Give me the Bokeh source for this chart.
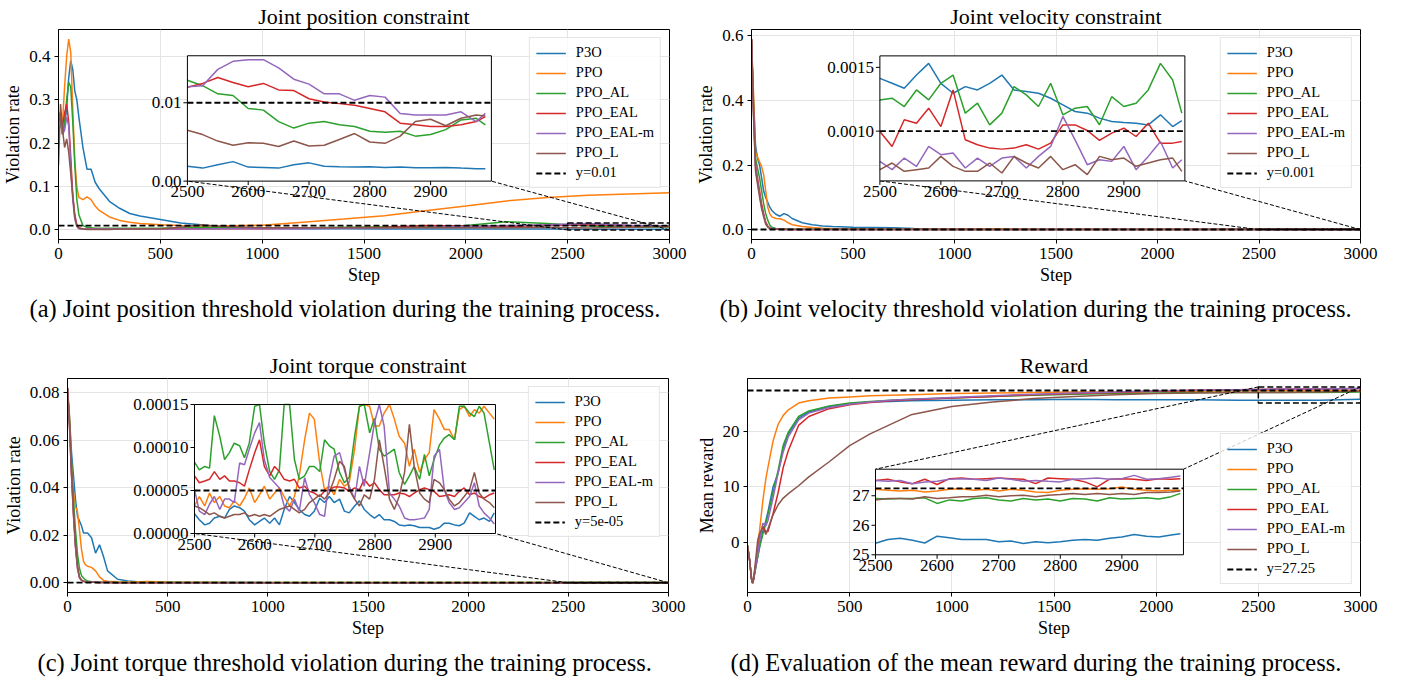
import numpy as np
from bokeh.plotting import figure
from bokeh.models import Range1d, FixedTicker, PrintfTickFormatter, Legend, LegendItem, Title
from bokeh.layouts import row, column
from bokeh.embed import file_html
from bokeh.resources import INLINE
from bokeh.core.properties import value

FONT = "Liberation Serif"
NAMES = ["P3O", "PPO", "PPO_AL", "PPO_EAL", "PPO_EAL-m", "PPO_L"]
COLORS = ["#1f77b4", "#ff7f0e", "#2ca02c", "#d62728", "#9467bd", "#8c564b"]

X_TICKS = [0, 500, 1000, 1500, 2000, 2500, 3000]
INSET_X = (2500, 3000)
INSET_X_TICKS = [2500, 2600, 2700, 2800, 2900]

# ---------------- (a) joint position ----------------
STEPS_V = [0, 10, 20, 30, 40, 50, 60, 70, 80, 90, 100, 120, 140, 160, 180, 200, 250, 300, 350, 400,
           500, 600, 700, 800, 1000, 1200, 1400, 1600, 1800, 2000, 2200, 2400, 2600, 2800, 3000]
POS_P3O = [0.27, 0.25, 0.22, 0.24, 0.28, 0.35, 0.39, 0.37, 0.32, 0.30, 0.26, 0.19, 0.14, 0.14, 0.11, 0.095,
           0.066, 0.05, 0.038, 0.032, 0.024, 0.016, 0.012, 0.007, 0.004, 0.003, 0.0025, 0.002, 0.002, 0.002,
           0.002, 0.002, 0.0018, 0.0018, 0.0016]
POS_PPO = [0.27, 0.26, 0.25, 0.33, 0.40, 0.44, 0.41, 0.28, 0.16, 0.10, 0.075, 0.07, 0.076, 0.07, 0.055, 0.045,
           0.03, 0.022, 0.018, 0.015, 0.012, 0.010, 0.009, 0.009, 0.011, 0.018, 0.025, 0.033, 0.044, 0.055,
           0.067, 0.075, 0.080, 0.083, 0.086]
POS_AL = [0.27, 0.25, 0.22, 0.25, 0.30, 0.34, 0.33, 0.25, 0.15, 0.07, 0.035, 0.01, 0.006, 0.005, 0.004, 0.004,
          0.004, 0.004, 0.004, 0.004, 0.004, 0.005, 0.006, 0.005, 0.005, 0.005, 0.006, 0.007, 0.008, 0.01,
          0.019, 0.015, 0.009, 0.0065, 0.007]
POS_EAL = [0.27, 0.26, 0.24, 0.27, 0.29, 0.25, 0.17, 0.08, 0.035, 0.012, 0.005, 0.002, 0.002, 0.002, 0.002,
           0.002, 0.002, 0.002, 0.002, 0.002, 0.002, 0.002, 0.003, 0.003, 0.003, 0.004, 0.005, 0.006, 0.01,
           0.009, 0.008, 0.011, 0.012, 0.0095, 0.008]
POS_EALM = [0.27, 0.25, 0.22, 0.23, 0.26, 0.24, 0.15, 0.07, 0.025, 0.008, 0.003, 0.002, 0.002, 0.002, 0.002,
            0.002, 0.002, 0.002, 0.002, 0.002, 0.002, 0.002, 0.002, 0.003, 0.003, 0.003, 0.004, 0.005, 0.006,
            0.008, 0.01, 0.012, 0.015, 0.011, 0.009]
POS_L = [0.15, 0.29, 0.23, 0.19, 0.21, 0.18, 0.13, 0.08, 0.03, 0.01, 0.004, 0.002, 0.001, 0.001, 0.001, 0.001,
         0.001, 0.002, 0.002, 0.002, 0.003, 0.006, 0.012, 0.008, 0.005, 0.005, 0.005, 0.005, 0.005, 0.005,
         0.005, 0.006, 0.0045, 0.006, 0.008]

POS_IN_STEP = [2500, 2525, 2550, 2575, 2600, 2625, 2650, 2675, 2700, 2725, 2750, 2775, 2800, 2825, 2850,
               2875, 2900, 2925, 2950, 2975, 2990]
POS_IN_P3O = [0.00191, 0.00166, 0.00208, 0.00249, 0.00179, 0.00175, 0.00166, 0.00208, 0.00233, 0.00191,
              0.00183, 0.00179, 0.00183, 0.00175, 0.00179, 0.0017, 0.0017, 0.00175, 0.00166, 0.00158, 0.00158]
POS_IN_AL = [0.01288, 0.01218, 0.01114, 0.01093, 0.00927, 0.00906, 0.0076, 0.00677, 0.0074, 0.0076, 0.00719,
             0.00698, 0.00636, 0.00623, 0.00636, 0.00574, 0.00594, 0.00657, 0.00781, 0.00802, 0.00719]
POS_IN_EAL = [0.01197, 0.01247, 0.01322, 0.01259, 0.01205, 0.01247, 0.01164, 0.01155, 0.01051, 0.0101,
              0.00989, 0.00968, 0.00927, 0.00885, 0.0074, 0.00719, 0.00698, 0.00698, 0.00719, 0.0076, 0.00823]
POS_IN_EALM = [0.01205, 0.01218, 0.01426, 0.01529, 0.0155, 0.0155, 0.01446, 0.01301, 0.01238, 0.01114,
               0.01114, 0.01031, 0.01093, 0.01072, 0.00864, 0.00844, 0.00844, 0.00844, 0.00885, 0.0076, 0.00864]
POS_IN_L = [0.00648, 0.00594, 0.00511, 0.00457, 0.0049, 0.00482, 0.00441, 0.00511, 0.00449, 0.00457, 0.00532,
            0.00607, 0.00499, 0.00482, 0.00574, 0.0076, 0.0079, 0.00707, 0.00802, 0.00844, 0.00831]

# ---------------- (b) joint velocity ----------------
VEL_P3O = [0.59, 0.40, 0.26, 0.22, 0.20, 0.16, 0.12, 0.10, 0.085, 0.07, 0.06, 0.048, 0.042, 0.05, 0.045, 0.035,
           0.022, 0.016, 0.012, 0.01, 0.008, 0.007, 0.006, 0.004, 0.003, 0.002, 0.002, 0.0018, 0.0016, 0.0015,
           0.0015, 0.0014, 0.0013, 0.0011, 0.0011]
VEL_PPO = [0.59, 0.42, 0.24, 0.225, 0.21, 0.195, 0.17, 0.12, 0.07, 0.05, 0.04, 0.035, 0.034, 0.03, 0.022, 0.016,
           0.01, 0.007, 0.005, 0.004, 0.003, 0.003, 0.0025, 0.0025, 0.0025, 0.003, 0.002, 0.002, 0.002, 0.002,
           0.002, 0.002, 0.0018, 0.0018, 0.0018]
VEL_AL = [0.59, 0.38, 0.22, 0.19, 0.16, 0.12, 0.08, 0.05, 0.03, 0.015, 0.008, 0.004, 0.003, 0.0025, 0.002, 0.002,
          0.0018, 0.0017, 0.0016, 0.0015, 0.0015, 0.0014, 0.0014, 0.0014, 0.0013, 0.0013, 0.0013, 0.0013,
          0.0013, 0.0012, 0.0012, 0.0012, 0.0012, 0.0012, 0.0012]
VEL_EAL = [0.59, 0.37, 0.20, 0.16, 0.12, 0.08, 0.05, 0.025, 0.012, 0.006, 0.003, 0.002, 0.0015, 0.0014, 0.0013,
           0.0013, 0.0012, 0.0012, 0.0011, 0.0011, 0.0011, 0.0011, 0.001, 0.001, 0.001, 0.001, 0.001, 0.001,
           0.001, 0.001, 0.001, 0.001, 0.001, 0.001, 0.00095]
VEL_EALM = [0.59, 0.36, 0.19, 0.15, 0.11, 0.07, 0.045, 0.02, 0.01, 0.005, 0.003, 0.002, 0.0015, 0.0013, 0.0012,
            0.0011, 0.001, 0.001, 0.001, 0.0009, 0.0009, 0.0009, 0.0009, 0.0009, 0.0008, 0.0008, 0.0008, 0.0008,
            0.0008, 0.0008, 0.0008, 0.0008, 0.0008, 0.0008, 0.0008]
VEL_L = [0.59, 0.35, 0.18, 0.14, 0.10, 0.065, 0.04, 0.018, 0.008, 0.004, 0.002, 0.0015, 0.0012, 0.001, 0.001,
         0.0009, 0.0009, 0.0008, 0.0008, 0.0008, 0.0008, 0.0008, 0.0007, 0.0007, 0.0007, 0.0007, 0.0007, 0.0007,
         0.0007, 0.0007, 0.0007, 0.0007, 0.0007, 0.0007, 0.0007]

VEL_IN_STEP = [2500, 2520, 2540, 2560, 2580, 2600, 2620, 2640, 2660, 2680, 2700, 2720, 2740, 2760, 2780, 2800,
               2820, 2840, 2860, 2880, 2900, 2920, 2940, 2960, 2980, 2995]
VEL_IN_P3O = [0.001414, 0.001375, 0.001336, 0.00144, 0.001531, 0.001375, 0.001297, 0.001349, 0.001323,
              0.001375, 0.00144, 0.001323, 0.00131, 0.001297, 0.001258, 0.001206, 0.001154, 0.001141, 0.001102,
              0.001076, 0.001068, 0.001062, 0.001049, 0.001128, 0.001036, 0.001083]
VEL_IN_AL = [0.001245, 0.001258, 0.001193, 0.001323, 0.001245, 0.001375, 0.00144, 0.001141, 0.001219, 0.001049,
             0.001141, 0.001349, 0.001284, 0.001193, 0.001375, 0.001128, 0.00118, 0.001193, 0.00105, 0.00127,
             0.001193, 0.001219, 0.001323, 0.001531, 0.001401, 0.001141]
VEL_IN_EAL = [0.000997, 0.00088, 0.001089, 0.001062, 0.00118, 0.001036, 0.001323, 0.000932, 0.000893, 0.000867,
              0.000859, 0.000867, 0.000893, 0.000859, 0.000906, 0.001049, 0.001049, 0.001005, 0.000927, 0.000984,
              0.001023, 0.000958, 0.001062, 0.000906, 0.000906, 0.000919]
VEL_IN_EALM = [0.000763, 0.000698, 0.000789, 0.000724, 0.00088, 0.000815, 0.000828, 0.000711, 0.000789,
               0.000724, 0.000789, 0.000802, 0.000711, 0.000802, 0.00088, 0.001115, 0.000932, 0.000737, 0.000776,
               0.000763, 0.00088, 0.000698, 0.000802, 0.000919, 0.000711, 0.000776]
VEL_IN_L = [0.000698, 0.00075, 0.000685, 0.000698, 0.000711, 0.000802, 0.000724, 0.000685, 0.000685, 0.00075,
            0.000672, 0.000802, 0.00075, 0.000711, 0.000802, 0.000698, 0.000737, 0.000659, 0.000802, 0.000776,
            0.000789, 0.000724, 0.00075, 0.000776, 0.000789, 0.000685]

# ---------------- (c) joint torque ----------------
TQ_P3O = [0.082, 0.07, 0.055, 0.045, 0.035, 0.028, 0.026, 0.024, 0.021, 0.021, 0.021, 0.019, 0.0125, 0.016,
          0.011, 0.005, 0.0015, 0.0008, 0.0004, 0.0003, 0.0002, 0.0001, 0.0001, 0.0001, 0.00005, 0.00004,
          0.00003, 0.00003, 0.00003, 0.00002, 0.00002, 0.00002, 0.00002, 0.00002, 0.00002]
TQ_PPO = [0.082, 0.07, 0.05, 0.038, 0.032, 0.03, 0.022, 0.014, 0.009, 0.0075, 0.007, 0.0065, 0.005, 0.0025,
          0.001, 0.0006, 0.0004, 0.0003, 0.0004, 0.0005, 0.0003, 0.0002, 0.0002, 0.0001, 0.0001, 0.0001, 0.0001,
          0.0001, 0.0001, 0.0001, 0.0001, 0.0001, 0.0001, 0.0001, 0.0001]
TQ_AL = [0.082, 0.068, 0.05, 0.035, 0.022, 0.012, 0.006, 0.003, 0.002, 0.0012, 0.0008, 0.0004, 0.0003, 0.0002,
         0.0002, 0.0002, 0.0001, 0.0001, 0.0001, 0.0001, 0.0001, 0.0001, 0.0001, 0.0001, 0.0001, 0.0001, 0.0001,
         0.0001, 0.0001, 0.0001, 0.0001, 0.0001, 0.0001, 0.0001, 0.0001]
TQ_EAL = [0.082, 0.066, 0.045, 0.028, 0.015, 0.006, 0.002, 0.001, 0.0006, 0.0004, 0.0003, 0.0002, 0.0002,
          0.0001, 0.0001, 0.0001, 0.00005, 0.00005, 0.00005, 0.00005, 0.00005, 0.00005, 0.00005, 0.00005,
          0.00005, 0.00005, 0.00005, 0.00005, 0.00005, 0.00005, 0.00005, 0.00005, 0.00005, 0.00005, 0.00005]
TQ_EALM = [0.082, 0.066, 0.046, 0.029, 0.015, 0.006, 0.0022, 0.001, 0.0006, 0.0004, 0.0003, 0.0002, 0.0002,
           0.0001, 0.0001, 0.0001, 0.00005, 0.00005, 0.00005, 0.00005, 0.00005, 0.00005, 0.00005, 0.00005,
           0.00005, 0.00005, 0.00005, 0.00005, 0.00005, 0.00005, 0.00005, 0.00005, 0.00005, 0.00005, 0.00005]
TQ_L = [0.082, 0.067, 0.047, 0.03, 0.016, 0.007, 0.0025, 0.0012, 0.0007, 0.0004, 0.0003, 0.0002, 0.0002, 0.0001,
        0.0001, 0.0001, 0.00004, 0.00004, 0.00004, 0.00004, 0.00004, 0.00004, 0.00004, 0.00004, 0.00004,
        0.00004, 0.00004, 0.00004, 0.00004, 0.00004, 0.00004, 0.00004, 0.00004, 0.00004, 0.00004]

TQ_IN_STEP = [2500, 2508, 2517, 2525, 2533, 2542, 2550, 2558, 2566, 2575, 2583, 2591, 2600, 2608, 2616, 2625,
              2633, 2641, 2649, 2658, 2666, 2674, 2683, 2691, 2699, 2708, 2716, 2724, 2732, 2741, 2749, 2757,
              2766, 2774, 2782, 2791, 2799, 2807, 2815, 2824, 2832, 2840, 2849, 2857, 2865, 2874, 2882, 2890,
              2898, 2907, 2915, 2923, 2932, 2940, 2948, 2957, 2965, 2973, 2981, 2990, 2998]
# values in units of 1e-5
TQ_IN_P3O_E5 = [2.3, 1.6, 1.0, 1.2, 1.8, 2.0, 1.8, 2.8, 3.2, 3.0, 2.6, 1.6, 1.0, 1.4, 1.8, 1.2, 1.8, 1.0, 2.8,
                4.3, 3.6, 2.8, 2.2, 2.0, 2.6, 4.1, 3.6, 4.3, 3.6, 4.0, 2.6, 2.4, 3.2, 3.8, 2.8, 2.2, 1.8, 2.2,
                1.6, 1.6, 1.4, 1.0, 0.9, 1.0, 0.9, 0.7, 0.7, 0.7, 0.5, 0.7, 1.2, 1.2, 1.0, 0.9, 1.2, 2.4, 2.0,
                1.6, 1.8, 1.4, 2.4]
TQ_IN_PPO_E5 = [3.2, 4.3, 3.2, 4.7, 3.6, 4.3, 3.2, 3.0, 3.8, 3.2, 4.1, 5.3, 3.6, 4.5, 5.5, 4.0, 4.7, 5.3, 4.3,
                3.2, 4.3, 6.7, 10.9, 14.0, 13.3, 8.2, 5.1, 5.5, 4.5, 6.3, 5.5, 5.9, 9.8, 14.8, 15.0, 14.8, 12.5,
                12.5, 14.0, 15.0, 13.3, 11.3, 10.5, 7.8, 9.8, 7.1, 8.6, 9.4, 14.4, 13.3, 12.1, 12.1, 10.9, 14.4,
                14.8, 13.6, 14.4, 14.0, 14.8, 14.0, 13.3]
TQ_IN_AL_E5 = [8.3, 7.4, 7.8, 7.6, 13.7, 11.3, 8.6, 9.4, 10.5, 10.2, 8.8, 10.5, 14.8, 15.0, 10.5, 7.2, 6.3, 7.4,
               15.0, 15.0, 8.6, 6.3, 6.7, 7.8, 7.8, 7.2, 10.9, 10.2, 9.8, 7.1, 5.9, 6.5, 11.3, 14.8, 15.0, 11.7,
               13.4, 9.8, 9.0, 9.4, 9.8, 7.1, 5.7, 6.7, 7.8, 6.3, 9.2, 6.7, 8.6, 10.3, 11.1, 11.5, 10.9, 14.8,
               14.8, 14.0, 13.6, 14.8, 14.0, 10.5, 7.4]
TQ_IN_EAL_E5 = [6.7, 5.9, 6.1, 6.3, 7.2, 6.3, 6.7, 6.1, 6.1, 5.9, 5.5, 7.4, 9.4, 10.9, 7.8, 6.7, 7.8, 7.2, 6.3,
                6.1, 6.3, 5.3, 5.5, 4.9, 4.7, 4.3, 4.9, 5.1, 5.4, 5.4, 5.3, 4.9, 5.3, 5.1, 6.3, 5.5, 5.9, 5.1,
                4.5, 4.5, 4.5, 4.7, 4.6, 4.3, 4.7, 5.1, 5.3, 5.1, 4.9, 4.3, 4.4, 4.5, 4.3, 4.9, 5.3, 4.5, 4.7,
                4.3, 4.1, 4.5, 4.7]
TQ_IN_EALM_E5 = [5.1, 2.6, 2.2, 3.4, 4.3, 2.8, 4.0, 4.0, 3.6, 8.2, 8.0, 9.8, 11.7, 12.9, 8.6, 6.5, 5.9, 5.3,
                 3.2, 2.6, 4.0, 2.6, 6.5, 4.5, 3.6, 2.2, 2.0, 6.3, 9.0, 9.4, 7.4, 5.5, 4.0, 7.8, 5.5, 9.4, 12.9,
                 15.0, 12.5, 4.7, 4.0, 3.2, 1.8, 1.6, 1.6, 1.7, 1.8, 2.8, 9.0, 9.8, 5.1, 3.6, 2.8, 3.0, 3.6, 4.3,
                 5.9, 3.2, 2.4, 1.8, 1.1]
TQ_IN_L_E5 = [3.2, 3.0, 2.6, 2.2, 2.4, 2.0, 1.8, 2.0, 2.2, 2.2, 2.4, 2.0, 2.2, 2.0, 2.2, 2.0, 2.4, 2.8, 3.0, 3.2,
              2.8, 2.4, 2.8, 3.6, 4.0, 4.5, 4.0, 4.7, 6.3, 8.4, 7.8, 5.1, 4.0, 3.2, 4.5, 4.0, 6.3, 10.9, 7.8,
              4.0, 2.8, 4.3, 7.1, 12.7, 7.8, 4.7, 4.0, 3.6, 6.3, 5.9, 5.1, 4.0, 3.2, 3.6, 4.3, 5.1, 7.1, 4.7, 4.0,
              3.6, 3.0]

# ---------------- (d) reward ----------------
RW_STEP = [0, 10, 20, 25, 30, 40, 50, 60, 75, 90, 100, 125, 150, 175, 200, 250, 300, 400, 500, 600, 700, 800,
           1000, 1200, 1400, 1600, 1800, 2000, 2200, 2400, 2600, 2800, 3000]
RW_P3O = [-0.5, -3, -6.5, -7.2, -6.5, -4.5, -2.5, -0.5, 2.0, 4.0, 5.5, 10.0, 12.5, 17.0, 19.5, 22.3, 23.4, 24.4,
          24.9, 25.2, 25.3, 25.4, 25.5, 25.6, 25.6, 25.7, 25.6, 25.6, 25.6, 25.5, 25.5, 25.5, 25.7]
RW_PPO = [-0.5, -3, -6.5, -7.2, -6.3, -3.8, -0.5, 2.5, 7.5, 11.5, 13.5, 18.2, 21.2, 22.8, 23.8, 25.0, 25.4, 25.9,
          26.1, 26.3, 26.4, 26.5, 26.7, 26.8, 26.9, 27.0, 27.0, 27.1, 27.1, 27.2, 27.2, 27.2, 27.2]
RW_AL = [-0.5, -3, -6.5, -7.2, -6.5, -4.5, -2.5, -0.7, 1.5, 3.5, 5.0, 9.0, 13.0, 17.5, 19.8, 22.6, 23.6, 24.5,
         25.0, 25.3, 25.5, 25.7, 25.9, 26.2, 26.4, 26.6, 26.7, 26.8, 26.9, 26.9, 26.9, 26.9, 27.0]
RW_EAL = [-0.5, -3, -6.5, -7.2, -6.5, -4.0, -1.5, 1.0, 3.0, 2.0, 2.0, 5.2, 9.0, 13.5, 16.5, 21.0, 22.6, 24.0,
          24.7, 25.1, 25.4, 25.6, 25.9, 26.2, 26.5, 26.7, 26.9, 27.1, 27.3, 27.4, 27.5, 27.5, 27.6]
RW_EALM = [-0.5, -3, -6.5, -7.2, -6.5, -4.2, -2.0, 0.5, 3.5, 3.0, 4.0, 8.0, 12.5, 16.3, 19.0, 22.0, 23.2, 24.2,
           24.8, 25.2, 25.5, 25.7, 26.0, 26.3, 26.6, 26.8, 27.0, 27.2, 27.3, 27.4, 27.5, 27.5, 27.6]
RW_L = [-0.5, -3, -6.5, -7.2, -6.5, -3.0, 0.5, 1.7, 2.8, 1.5, 2.5, 5.0, 6.8, 8.0, 8.8, 10.2, 11.8, 14.5, 17.4,
        19.5, 21.2, 22.9, 24.4, 25.2, 25.8, 26.2, 26.5, 26.7, 26.8, 26.9, 26.9, 27.0, 27.1]

RW_IN_STEP = VEL_IN_STEP
RW_IN_P3O = [25.39, 25.52, 25.56, 25.49, 25.40, 25.63, 25.58, 25.52, 25.52, 25.52, 25.44, 25.47, 25.38, 25.44,
             25.41, 25.44, 25.49, 25.52, 25.49, 25.56, 25.60, 25.69, 25.63, 25.60, 25.67, 25.71]
RW_IN_PPO = [27.22, 27.19, 27.16, 27.19, 27.13, 27.16, 27.22, 27.24, 27.19, 27.22, 27.16, 27.22, 27.19, 27.13,
             27.11, 27.19, 27.22, 27.24, 27.22, 27.24, 27.30, 27.22, 27.19, 27.16, 27.19, 27.19]
RW_IN_AL = [26.91, 26.89, 26.91, 26.91, 26.93, 26.74, 26.86, 26.82, 26.91, 26.93, 26.86, 26.82, 26.91, 26.86,
            26.89, 26.82, 26.91, 26.89, 26.82, 26.93, 26.89, 26.91, 26.93, 26.89, 26.97, 27.08]
RW_IN_EAL = [27.52, 27.56, 27.47, 27.41, 27.56, 27.38, 27.58, 27.60, 27.56, 27.58, 27.60, 27.58, 27.56, 27.41,
             27.60, 27.58, 27.56, 27.47, 27.30, 27.56, 27.58, 27.56, 27.52, 27.58, 27.56, 27.58]
RW_IN_EALM = [27.52, 27.49, 27.52, 27.41, 27.47, 27.49, 27.56, 27.58, 27.56, 27.52, 27.60, 27.56, 27.49, 27.52,
              27.49, 27.47, 27.56, 27.58, 27.60, 27.56, 27.58, 27.69, 27.56, 27.58, 27.63, 27.67]
RW_IN_L = [26.86, 26.91, 26.91, 26.89, 26.97, 26.91, 26.93, 26.97, 26.97, 27.02, 26.97, 27.00, 27.02, 26.97,
           27.02, 27.04, 27.08, 27.04, 27.08, 27.04, 27.08, 27.04, 27.11, 27.11, 27.13, 27.16]


def build_panel(title, caption, ylabel, steps, series, yrange, yticks, yfmt, thr, thr_label,
                in_steps, in_series, in_yrange, in_yticks, in_labels, inset_box, corners,
                frame_w, frame_h, border, legend_loc, cap_standoff, cap_offset):
    mb_l, mb_r, mb_t, mb_b = border
    p = figure(frame_width=frame_w, frame_height=frame_h,
               x_range=Range1d(0, 3000), y_range=Range1d(*yrange),
               output_backend="svg", toolbar_location=None,
               min_border_left=mb_l, min_border_right=mb_r,
               min_border_top=mb_t, min_border_bottom=mb_b)
    p.title.text = title
    p.title.align = "center"
    p.title.text_font = FONT
    p.title.text_font_size = "22px"
    p.title.text_font_style = "normal"
    p.title.text_color = "black"
    p.title.standoff = 2

    for ax in (p.xaxis[0], p.yaxis[0]):
        ax.major_label_text_font = FONT
        ax.major_label_text_font_size = "17px"
        ax.major_label_text_color = "black"
        ax.axis_label_text_font = FONT
        ax.axis_label_text_font_size = "18px"
        ax.axis_label_text_font_style = "normal"
        ax.axis_label_text_color = "black"
        ax.major_tick_in = 0
        ax.major_tick_out = 4
        ax.minor_tick_in = 0
        ax.minor_tick_out = 0
        ax.axis_line_color = "black"
        ax.major_tick_line_color = "black"
        ax.major_label_standoff = 4
        ax.axis_label_standoff = 3
    p.xaxis.ticker = FixedTicker(ticks=X_TICKS)
    p.yaxis.ticker = FixedTicker(ticks=yticks)
    p.yaxis.formatter = PrintfTickFormatter(format=yfmt)
    p.xaxis.axis_label = "Step"
    p.yaxis.axis_label = ylabel
    p.grid.grid_line_color = "#e4e4e4"
    p.grid.grid_line_width = 1
    p.outline_line_color = "black"
    p.outline_line_alpha = 1

    xr0, xr1 = p.x_range.start, p.x_range.end
    rs = []
    for ys, c in zip(series, COLORS):
        rs.append(p.line(steps, ys, line_color=c, line_width=1.5))
    r_thr = p.line([xr0, xr1], [thr, thr], line_color="black", line_width=1.8, line_dash="6 3")

    # zoom region indicator
    x0, x1 = INSET_X
    y0, y1 = in_yrange
    p.quad(left=[x0], right=[x1], bottom=[y0], top=[y1], fill_alpha=0,
           line_color="black", line_width=1.5, line_dash="6 3")

    # inset placement (fractions of the frame)
    lf, tf, wf, hf = inset_box
    ix, iw = lf * frame_w, wf * frame_w
    iy, ih = tf * frame_h, hf * frame_h
    ib = frame_h - iy - ih
    sx = (x1 - x0) / iw
    xs = x0 - ix * sx
    sy = (y1 - y0) / ih
    ys_ = y0 - ib * sy
    p.extra_x_ranges = {"ix": Range1d(xs, xs + frame_w * sx)}
    p.extra_y_ranges = {"iy": Range1d(ys_, ys_ + frame_h * sy)}
    IR = dict(x_range_name="ix", y_range_name="iy")

    def main_x(px):
        return xr0 + px / frame_w * (xr1 - xr0)

    def main_y(px_from_bottom):
        return yrange[0] + px_from_bottom / frame_h * (yrange[1] - yrange[0])

    inset_corner = {"bl": (main_x(ix), main_y(ib)), "br": (main_x(ix + iw), main_y(ib)),
                    "tl": (main_x(ix), main_y(ib + ih)), "tr": (main_x(ix + iw), main_y(ib + ih))}
    rect_corner = {"bl": (x0, y0), "br": (x1, y0), "tl": (x0, y1), "tr": (x1, y1)}
    p.segment(x0=[rect_corner[c][0] for c in corners], y0=[rect_corner[c][1] for c in corners],
              x1=[inset_corner[c][0] for c in corners], y1=[inset_corner[c][1] for c in corners],
              line_color="black", line_width=1, line_dash="4 2")

    # inset body
    p.quad(left=[x0], right=[x1], bottom=[y0], top=[y1], fill_color="white", line_alpha=0, **IR)
    for ys, c in zip(in_series, COLORS):
        if ys is not None:
            p.line(in_steps, ys, line_color=c, line_width=1.5, **IR)
    p.line([x0, x1], [thr, thr], line_color="black", line_width=1.8, line_dash="6 3", **IR)
    p.quad(left=[x0], right=[x1], bottom=[y0], top=[y1], fill_alpha=0, line_color="black",
           line_width=1, **IR)
    nx = len(INSET_X_TICKS)
    p.ray(x=INSET_X_TICKS, y=[y0] * nx, length=4, length_units="screen", angle=-np.pi / 2,
          line_color="black", line_width=1, **IR)
    p.text(x=INSET_X_TICKS, y=[y0] * nx, text=[str(t) for t in INSET_X_TICKS],
           text_font=value(FONT), text_font_size="17px", text_color="black",
           text_align="center", text_baseline="top", y_offset=5, **IR)
    ny = len(in_yticks)
    p.ray(x=[x0] * ny, y=in_yticks, length=4, length_units="screen", angle=np.pi,
          line_color="black", line_width=1, **IR)
    p.text(x=[x0] * ny, y=in_yticks, text=in_labels,
           text_font=value(FONT), text_font_size="17px", text_color="black",
           text_align="right", text_baseline="middle", x_offset=-6, **IR)

    items = [LegendItem(label=n, renderers=[r]) for n, r in zip(NAMES, rs)]
    items.append(LegendItem(label=thr_label, renderers=[r_thr]))
    leg = Legend(items=items, location=legend_loc, margin=8, padding=6, spacing=3,
                 glyph_width=30, glyph_height=16, label_height=16, label_standoff=10,
                 label_text_font=FONT, label_text_font_size="14.5px", label_text_color="black",
                 border_line_color="#cccccc", border_line_width=1,
                 background_fill_color="white", background_fill_alpha=0.8)
    p.add_layout(leg)

    p.add_layout(Title(text=caption, align="left", text_font=FONT, text_font_size="24.5px",
                       text_font_style="normal", text_color="black", standoff=cap_standoff,
                       offset=cap_offset), "below")
    return p


pa = build_panel("Joint position constraint",
                 "(a) Joint position threshold violation during the training process.",
                 "Violation rate", STEPS_V, [POS_P3O, POS_PPO, POS_AL, POS_EAL, POS_EALM, POS_L],
                 (-0.022, 0.462), [0.0, 0.1, 0.2, 0.3, 0.4], "%.1f", 0.01, "y=0.01",
                 POS_IN_STEP, [POS_IN_P3O, None, POS_IN_AL, POS_IN_EAL, POS_IN_EALM, POS_IN_L],
                 (0.0, 0.016), [0.0, 0.01], ["0.00", "0.01"], (0.211, 0.125, 0.4975, 0.597),
                 ["bl", "br"], 611, 210, (49, 24, 0, 110), "top_right", 11, -29)

pb = build_panel("Joint velocity constraint",
                 "(b) Joint velocity threshold violation during the training process.",
                 "Violation rate", STEPS_V, [VEL_P3O, VEL_PPO, VEL_AL, VEL_EAL, VEL_EALM, VEL_L],
                 (-0.03, 0.62), [0.0, 0.2, 0.4, 0.6], "%.1f", 0.001, "y=0.001",
                 VEL_IN_STEP, [VEL_IN_P3O, None, VEL_IN_AL, VEL_IN_EAL, VEL_IN_EALM, VEL_IN_L],
                 (0.00061, 0.00159), [0.0010, 0.0015], ["0.0010", "0.0015"], (0.2108, 0.1256, 0.5008, 0.5953),
                 ["bl", "br"], 609, 210, (48, 30, 0, 110), "top_right", 11, -32)

tq_in = [list(np.array(s) * 1e-5) for s in (TQ_IN_P3O_E5, TQ_IN_PPO_E5, TQ_IN_AL_E5, TQ_IN_EAL_E5,
                                            TQ_IN_EALM_E5, TQ_IN_L_E5)]
pc = build_panel("Joint torque constraint",
                 "(c) Joint torque threshold violation during the training process.",
                 "Violation rate", STEPS_V, [TQ_P3O, TQ_PPO, TQ_AL, TQ_EAL, TQ_EALM, TQ_L],
                 (-0.0041, 0.0861), [0.0, 0.02, 0.04, 0.06, 0.08], "%.2f", 0.00005, "y=5e-05",
                 TQ_IN_STEP, tq_in,
                 (0.0, 0.00015), [0.0, 0.00005, 0.0001, 0.00015],
                 ["0.00000", "0.00005", "0.00010", "0.00015"], (0.2113, 0.1215, 0.5008, 0.6028),
                 ["bl", "br"], 601, 214, (58, 25, 27, 93), "top_right", 13, -30)

pd_ = build_panel("Reward",
                  "(d) Evaluation of the mean reward during the training process.",
                  "Mean reward", RW_STEP, [RW_P3O, RW_PPO, RW_AL, RW_EAL, RW_EALM, RW_L],
                  (-8.9, 29.4), [0, 10, 20], "%d", 27.25, "y=27.25",
                  RW_IN_STEP, [RW_IN_P3O, RW_IN_PPO, RW_IN_AL, RW_IN_EAL, RW_IN_EALM, RW_IN_L],
                  (25.0, 27.9), [25, 26, 27], ["25", "26", "27"], (0.2088, 0.4238, 0.5024, 0.40),
                  ["tl", "tr"], 613, 214, (44, 30, 27, 93), "bottom_right", 13, -17)

layout = column(row(pa, pb), row(pc, pd_))
open("out.html", "w").write(file_html(layout, INLINE))
